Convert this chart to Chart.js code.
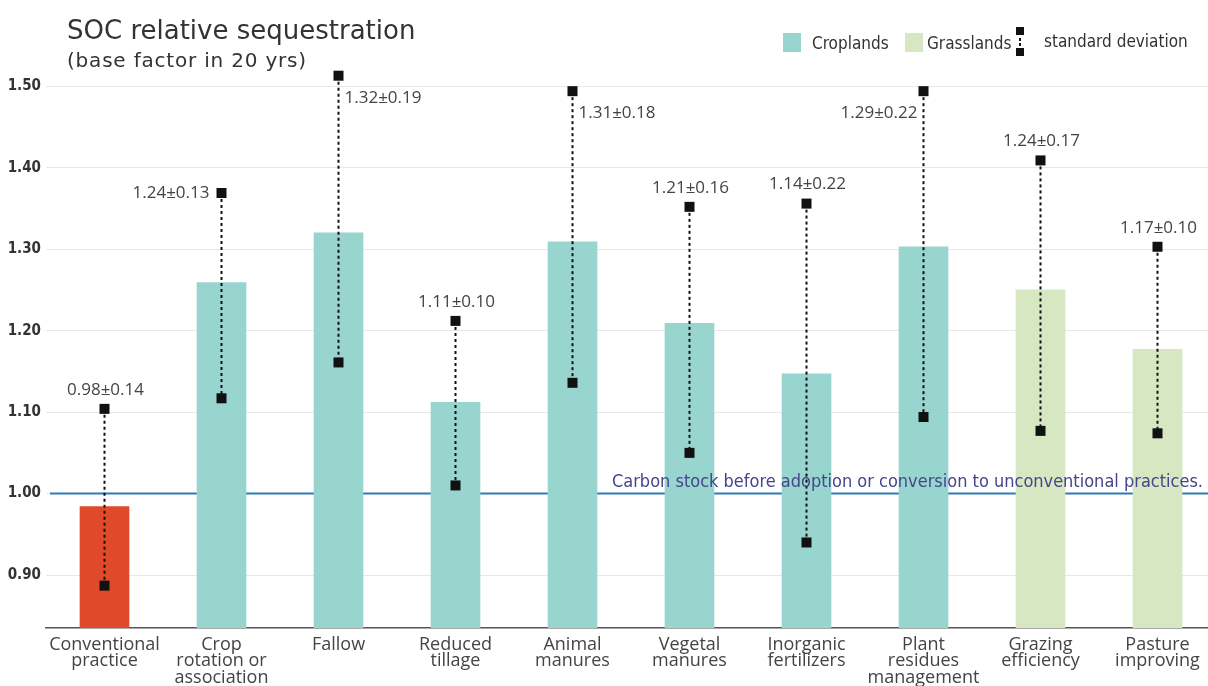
<!DOCTYPE html>
<html>
<head>
<meta charset="utf-8">
<script src="https://cdn.jsdelivr.net/npm/chart.js@4.4.1/dist/chart.umd.min.js"></script>
<style>
  html, body { margin: 0; padding: 0; background: #fff; overflow: hidden; }
  #wrap { width: 1216px; height: 686px; }
</style>
</head>
<body>
<div id="wrap"><canvas id="area"></canvas></div>
<script>
// data
var categories = [
    ["Conventional", "practice"],
    ["Crop", "rotation or", "association"],
    ["Fallow"],
    ["Reduced", "tillage"],
    ["Animal", "manures"],
    ["Vegetal", "manures"],
    ["Inorganic", "fertilizers"],
    ["Plant", "residues", "management"],
    ["Grazing", "efficiency"],
    ["Pasture", "improving"]
];
var groups = ["conventional", "crop", "crop", "crop", "crop", "crop", "crop", "crop", "grass", "grass"];
var barValues = [0.984, 1.259, 1.320, 1.112, 1.309, 1.209, 1.147, 1.303, 1.250, 1.177];
var sdLow = [0.887, 1.117, 1.161, 1.010, 1.136, 1.050, 0.940, 1.094, 1.077, 1.074];
var sdHigh = [1.104, 1.369, 1.513, 1.212, 1.494, 1.352, 1.356, 1.494, 1.409, 1.303];
var valueLabels = ["0.98±0.14", "1.24±0.13", "1.32±0.19", "1.11±0.10", "1.31±0.18",
                   "1.21±0.16", "1.14±0.22", "1.29±0.22", "1.24±0.17", "1.17±0.10"];
var yTicks = [0.90, 1.00, 1.10, 1.20, 1.30, 1.40, 1.50];
var baseline = 1.00;

// where each value label sits relative to its top marker
var labelPlace = ["above", "left", "right", "above", "right", "above", "above", "leftBelow", "above", "above"];

var groupColors = { conventional: '#e04a2a', crop: '#98d5cf', grass: '#d6e7c2' };
var condensed = '"DejaVu Sans Condensed", "DejaVu Sans", sans-serif';

var extras = {
    id: 'extras',
    beforeDatasetsDraw: function(chart) {
        var c = chart.ctx, y = chart.scales.y;
        var yb = y.getPixelForValue(baseline);
        c.save();
        c.strokeStyle = '#2c7db5';
        c.lineWidth = 2;
        c.beginPath();
        c.moveTo(chart.chartArea.left + 4, yb);
        c.lineTo(chart.chartArea.right, yb);
        c.stroke();
        c.restore();
    },
    afterDatasetsDraw: function(chart) {
        var c = chart.ctx, x = chart.scales.x, y = chart.scales.y;
        c.save();
        // standard deviation bars
        for (var i = 0; i < categories.length; i++) {
            var px = x.getPixelForValue(i);
            var top = y.getPixelForValue(sdHigh[i]);
            var bot = y.getPixelForValue(sdLow[i]);
            c.strokeStyle = '#111';
            c.lineWidth = 2;
            c.setLineDash([3, 3]);
            c.beginPath();
            c.moveTo(px, top);
            c.lineTo(px, bot);
            c.stroke();
            c.setLineDash([]);
            c.fillStyle = '#111';
            c.fillRect(px - 5, top - 5, 10, 10);
            c.fillRect(px - 5, bot - 5, 10, 10);

            c.font = '17px "Open Sans", sans-serif';
            c.fillStyle = '#444';
            c.textBaseline = 'middle';
            var p = labelPlace[i];
            if (p === 'above') {
                c.textAlign = 'center';
                c.fillText(valueLabels[i], px + 1, top - 19);
            } else if (p === 'right') {
                c.textAlign = 'left';
                c.fillText(valueLabels[i], px + 6, top + 22);
            } else if (p === 'left') {
                c.textAlign = 'right';
                c.fillText(valueLabels[i], px - 12, top);
            } else {
                c.textAlign = 'right';
                c.fillText(valueLabels[i], px - 6, top + 22);
            }
        }
        // baseline label
        var yb = y.getPixelForValue(baseline);
        c.font = '18px ' + condensed;
        c.fillStyle = '#45458c';
        c.textAlign = 'right';
        c.textBaseline = 'alphabetic';
        c.fillText('Carbon stock before adoption or conversion to unconventional practices.', 1203, yb - 7);

        // title
        c.fillStyle = '#333';
        c.textAlign = 'left';
        c.font = '26px "DejaVu Sans", sans-serif';
        c.fillText('SOC relative sequestration', 67, 39);
        c.letterSpacing = '0.8px';
        c.font = '20px "DejaVu Sans", sans-serif';
        c.fillText('(base factor in 20 yrs)', 67, 67);
        c.letterSpacing = '0px';

        // legend
        c.font = '17px ' + condensed;
        c.textBaseline = 'middle';
        c.fillStyle = groupColors.crop;
        c.fillRect(783, 33, 18, 19);
        c.fillStyle = '#333';
        c.fillText('Croplands', 812, 45);
        c.fillStyle = groupColors.grass;
        c.fillRect(905, 33, 18, 19);
        c.fillStyle = '#333';
        c.fillText('Grasslands', 927, 45);
        c.fillStyle = '#111';
        c.fillRect(1016, 27, 8, 8);
        c.fillRect(1016, 48, 8, 8);
        c.fillRect(1019, 38, 2, 3);
        c.fillRect(1019, 43, 2, 3);
        c.fillStyle = '#333';
        c.fillText('standard deviation', 1044, 43);
        c.restore();
    }
};

var ctx = document.getElementById('area').getContext('2d');
var myChart = new Chart(ctx, {
    type: 'bar',
    data: {
        labels: categories,
        datasets: [{
            label: 'SOC',
            data: barValues,
            backgroundColor: groups.map(function(g) { return groupColors[g]; }),
            barThickness: 49,
            borderWidth: 0
        }]
    },
    options: {
        responsive: true,
        maintainAspectRatio: false,
        animation: false,
        layout: { padding: { top: 70, left: 0, right: 0, bottom: 0 } },
        plugins: {
            legend: { display: false },
            tooltip: { enabled: false }
        },
        scales: {
            x: {
                grid: { display: false },
                border: { display: true, color: '#555', width: 1.5 },
                ticks: {
                    color: '#444',
                    padding: 1,
                    maxRotation: 0,
                    autoSkip: false,
                    font: { family: '"Open Sans", sans-serif', size: 18, lineHeight: 0.9 }
                },
                afterFit: function(scale) { scale.height = 58; }
            },
            y: {
                min: 0.835,
                max: 1.52,
                afterBuildTicks: function(scale) {
                    scale.ticks = yTicks.map(function(v) { return { value: v }; });
                },
                grid: { color: '#e8e8e8', drawTicks: false },
                border: { display: false },
                ticks: {
                    color: '#333',
                    padding: 5,
                    font: { family: condensed, size: 15, weight: 'bold' },
                    callback: function(v) { return Number(v).toFixed(2); }
                },
                afterFit: function(scale) { scale.width = 46; }
            }
        }
    },
    plugins: [extras]
});
</script>
</body>
</html>
